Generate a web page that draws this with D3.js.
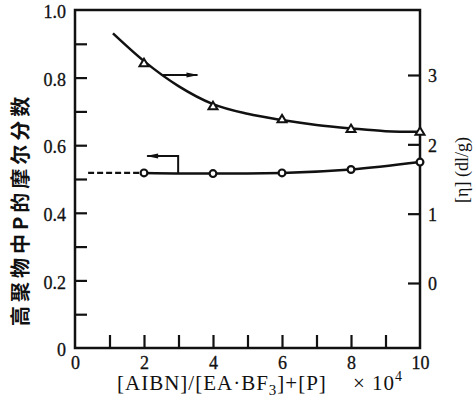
<!DOCTYPE html>
<html>
<head>
<meta charset="utf-8">
<script src="https://cdn.jsdelivr.net/npm/d3@7"></script>
<style>
  html, body { margin: 0; padding: 0; background: #fff; }
  svg { display: block; }
</style>
</head>
<body>
<div id="chart"></div>
<script>
// 数据
const xTicks = [0, 2, 4, 6, 8, 10];
const xMinorTicks = [1, 2, 3, 4, 5, 6, 7, 8, 9];
const leftTicks = [0, 0.2, 0.4, 0.6, 0.8, 1.0];
const leftTickLabels = ["0", "0.2", "0.4", "0.6", "0.8", "1.0"];
const leftMinorTicks = [0.1, 0.2, 0.3, 0.4, 0.5, 0.6, 0.7, 0.8, 0.9];
const rightTicks = [0, 1, 2, 3];

// 特性粘数 [η]（三角形，右轴）
const etaX = [2, 4, 6, 8, 10];
const etaY = [3.17, 2.55, 2.36, 2.22, 2.18];
// 拟合曲线
const etaCurveX = [1.1, 2, 3, 4, 5, 6, 7, 8, 9, 10];
const etaCurveY = [3.60, 3.20, 2.84, 2.58, 2.44, 2.35, 2.28, 2.23, 2.19, 2.18];

// P 的摩尔分数（圆圈，左轴）
const fracX = [2, 4, 6, 8, 10];
const fracY = [0.518, 0.516, 0.518, 0.528, 0.550];
// 虚线外推段
const fracDashX = [0.38, 2];
const fracDashY = [0.518, 0.518];

// 指示箭头（数据坐标）
const etaArrowX = [2.55, 3.55];
const etaArrowY = [3.0, 3.0];
const fracArrowX = [2.09, 2.99, 2.99];
const fracArrowY = [0.568, 0.568, 0.518];

const W = 473, H = 414;
const margin = { top: 10, right: 53, bottom: 66, left: 75 };
const serif = "'Liberation Serif', 'Times New Roman', serif";

const svg = d3.select("#chart").append("svg")
  .attr("width", W)
  .attr("height", H);

const x = d3.scaleLinear().domain([0, 10]).range([margin.left, W - margin.right]);
const yL = d3.scaleLinear().domain([0, 1]).range([H - margin.bottom, margin.top]);
const yR = d3.scaleLinear().domain([0, 3]).range([283, 75]);

const ink = "#111";

// 边框
svg.append("rect")
  .attr("x", x(0)).attr("y", yL(1))
  .attr("width", x(10) - x(0)).attr("height", yL(0) - yL(1))
  .attr("fill", "none").attr("stroke", ink).attr("stroke-width", 2.5);

// 内向刻度
const tickStyle = g => {
  g.select(".domain").remove();
  g.selectAll("line").attr("stroke", ink).attr("stroke-width", 2.2);
};

svg.append("g")
  .attr("transform", `translate(${x(0)},0)`)
  .call(d3.axisRight(yL).tickValues(leftMinorTicks).tickSize(12).tickFormat(""))
  .call(tickStyle);

svg.append("g")
  .attr("transform", `translate(0,${yL(0)})`)
  .call(d3.axisTop(x).tickValues(xMinorTicks).tickSize(13).tickFormat(""))
  .call(tickStyle);

svg.append("g")
  .attr("transform", `translate(${x(10)},0)`)
  .call(d3.axisLeft(yR).tickValues(rightTicks).tickSize(12).tickFormat(""))
  .call(tickStyle);

// 刻度标签
const labelStyle = g => {
  g.attr("font-family", serif).attr("font-size", 18);
  g.select(".domain").remove();
  g.selectAll("line").remove();
  g.selectAll("text")
    .attr("fill", ink)
    .attr("stroke", ink)
    .attr("stroke-width", 0.3)
    .style("font-family", serif)
    .style("font-size", "18px");
};

svg.append("g")
  .attr("transform", `translate(${x(0)},2)`)
  .call(d3.axisLeft(yL).tickValues(leftTicks).tickSize(0).tickPadding(9)
    .tickFormat((d, i) => leftTickLabels[i]))
  .call(labelStyle);

svg.append("g")
  .attr("transform", `translate(0,${yL(0) + 2})`)
  .call(d3.axisBottom(x).tickValues(xTicks).tickSize(0).tickPadding(6)
    .tickFormat(d3.format("d")))
  .call(labelStyle);

svg.append("g")
  .attr("transform", `translate(${x(10)},1)`)
  .call(d3.axisRight(yR).tickValues(rightTicks).tickSize(0).tickPadding(8)
    .tickFormat(d3.format("d")))
  .call(labelStyle);

// [η] 曲线
const etaLine = d3.line()
  .x(d => x(d[0])).y(d => yR(d[1]))
  .curve(d3.curveMonotoneX);
svg.append("path")
  .attr("d", etaLine(d3.zip(etaCurveX, etaCurveY)))
  .attr("fill", "none").attr("stroke", ink).attr("stroke-width", 2.5);

// 摩尔分数曲线
const fracLine = d3.line()
  .x(d => x(d[0])).y(d => yL(d[1]))
  .curve(d3.curveMonotoneX);
svg.append("path")
  .attr("d", fracLine(d3.zip(fracX, fracY)))
  .attr("fill", "none").attr("stroke", ink).attr("stroke-width", 2.5);
svg.append("path")
  .attr("d", fracLine(d3.zip(fracDashX, fracDashY)))
  .attr("fill", "none").attr("stroke", ink).attr("stroke-width", 2.2)
  .attr("stroke-dasharray", "6,3");

// 箭头
const straight = d3.line();
svg.append("path")
  .attr("d", straight(d3.zip(etaArrowX.map(x), etaArrowY.map(yR))))
  .attr("fill", "none").attr("stroke", ink).attr("stroke-width", 2);
{
  const tx = x(etaArrowX[1]), ty = yR(etaArrowY[1]);
  svg.append("path")
    .attr("d", `M${tx + 1},${ty} L${tx - 11},${ty - 2.5} L${tx - 11},${ty + 2.5} Z`)
    .attr("fill", ink);
}
svg.append("path")
  .attr("d", straight(d3.zip(fracArrowX.map(x), fracArrowY.map(yL))))
  .attr("fill", "none").attr("stroke", ink).attr("stroke-width", 2);
{
  const tx = x(fracArrowX[0]), ty = yL(fracArrowY[0]);
  svg.append("path")
    .attr("d", `M${tx - 1},${ty} L${tx + 11},${ty - 2.5} L${tx + 11},${ty + 2.5} Z`)
    .attr("fill", ink);
}

// 标记点
svg.selectAll(".tri")
  .data(d3.zip(etaX, etaY))
  .join("path")
  .attr("class", "tri")
  .attr("transform", d => `translate(${x(d[0])},${yR(d[1])})`)
  .attr("d", "M0,-4.5 L4.5,3 L-4.5,3 Z")
  .attr("fill", "#fff").attr("stroke", ink).attr("stroke-width", 2);

svg.selectAll(".dot")
  .data(d3.zip(fracX, fracY))
  .join("circle")
  .attr("class", "dot")
  .attr("cx", d => x(d[0])).attr("cy", d => yL(d[1]))
  .attr("r", 3.4)
  .attr("fill", "#fff").attr("stroke", ink).attr("stroke-width", 2.2);

// 轴标题
svg.append("text")
  .attr("transform", `translate(19,${yL(0.41)}) rotate(-90)`)
  .attr("text-anchor", "middle")
  .attr("dominant-baseline", "central")
  .attr("fill", ink)
  .style("font-family", "'Noto Sans CJK SC', sans-serif")
  .style("font-weight", 700)
  .style("font-size", "20px")
  .style("letter-spacing", "4px")
  .text("高聚物中P的摩尔分数");

svg.append("text")
  .attr("transform", `translate(462,170) rotate(-90)`)
  .attr("text-anchor", "middle")
  .attr("dominant-baseline", "central")
  .attr("fill", ink)
  .style("font-family", serif)
  .style("font-size", "18px")
  .text("[η] (dl/g)");

const xt = svg.append("text")
  .attr("x", 117).attr("y", 390)
  .attr("fill", ink)
  .style("font-family", serif)
  .style("font-size", "21px")
  .style("letter-spacing", "1px");
xt.append("tspan").text("[AIBN]/[EA·BF");
xt.append("tspan").attr("dy", 5).style("font-size", "15px").text("3");
xt.append("tspan").attr("dy", -5).text("]+[P]");

const xu = svg.append("text")
  .attr("x", 353).attr("y", 390)
  .attr("fill", ink)
  .style("font-family", serif)
  .style("font-size", "21px")
  .style("letter-spacing", "1px");
xu.append("tspan").text("× 10");
xu.append("tspan").attr("dy", -9).style("font-size", "14px").text("4");
</script>
</body>
</html>
